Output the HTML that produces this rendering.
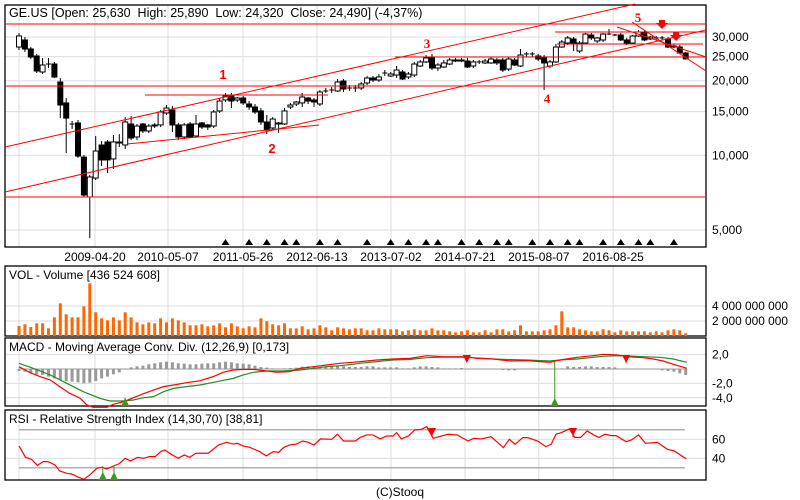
<!DOCTYPE html>
<html><head><meta charset="utf-8"><style>
body{margin:0;background:#fff;}
svg{display:block;font-family:"Liberation Sans",sans-serif;}
</style></head><body>
<svg id="c" width="800" height="500" viewBox="0 0 800 500" xmlns="http://www.w3.org/2000/svg"></svg>
<script>
const open=[27340,29190,26850,25150,21680,23350,23350,19760,16270,13380,13510,9840,6795,8100,11010,11320,9670,11320,11010,13380,11860,13380,12540,13260,13260,14820,15240,13260,11860,13380,11970,13510,13260,13130,15100,16720,17350,16720,17030,16110,15670,15100,13630,12890,13380,13380,15670,16110,16270,17030,16720,16110,18180,18345,18180,19940,18690,18520,18690,19580,20510,20130,21480,20890,21085,21680,20700,21085,22920,23800,24920,22500,22710,23350,24010,24010,24010,22920,23800,23580,23580,24235,24235,22290,24235,22920,25630,25630,25150,24690,22920,23800,27340,28380,29470,26350,28380,30570,28920,29190,30850,30570,30570,29190,28380,30290,31150,29470,29740,29740,29470,27600,27340,25870];
const close=[30290,26850,24920,21880,23140,23140,20690,15960,14140,13260,9930,6920,8180,10410,9580,9580,11320,11210,13630,11750,13130,12540,13130,13130,14960,15520,13260,11860,13260,11860,13380,13010,13010,14960,16560,17350,16560,17030,16270,15670,14960,13630,12655,14010,13510,15100,15960,16410,17190,16560,16410,18010,18180,18345,19760,18520,18690,18690,19400,20510,20130,20700,21480,21280,22085,20320,21280,23350,23800,24690,22500,23140,23580,24235,24235,24235,22710,23800,23800,24010,24460,23580,22085,24460,23140,25390,25630,25630,24460,23580,23800,27340,28640,29740,28120,28380,30850,29740,29740,30850,30850,30570,29190,28380,30290,31440,29190,30010,29740,29740,27340,27340,25870,24490];
const high=[31150,30010,27340,25630,24690,24690,23800,20500,17030,13760,13890,10030,8330,11960,11420,11530,12080,12190,14270,14410,13380,13510,13380,13510,15240,15960,15810,13510,13510,13630,14545,13630,13380,15240,17030,17850,17850,17190,17350,16560,16110,15520,14545,14270,13630,15520,16270,16560,17850,17190,17030,18345,18690,18870,20320,20320,19215,19215,19760,20890,20890,21280,22085,21680,22920,22085,21680,23800,24235,25390,25630,23580,24235,24690,24690,24690,24690,24235,24235,24460,24920,24690,24690,24920,24690,26850,26100,26100,25630,25390,24235,28120,29190,30290,30010,28920,31150,31150,30010,31150,32320,30850,31150,29740,30570,32025,31730,30290,30290,30290,30010,28120,27860,26100];
const low=[26600,26100,24460,21480,21280,22500,20500,14140,10220,12780,9770,6795,4640,7955,9060,8490,8810,10810,10610,11530,11530,12310,12310,12890,13010,14545,12420,11530,11640,11750,11860,12780,12655,12890,14820,16410,15520,16410,15960,15240,14680,13260,12190,12655,12310,13260,15380,15810,15670,16110,15670,15810,17850,17850,18010,18010,18180,18010,18345,19215,19760,19760,20890,20700,20510,20130,20320,20700,22710,23580,22085,21880,22500,23140,23800,23800,22500,22500,23350,23350,23350,23140,21680,21880,22920,22710,24920,24920,24010,18345,22500,23580,27090,27860,26350,25870,28120,29190,28380,28640,30570,30290,28920,27860,28120,30010,28920,29190,29190,29190,27090,27090,25630,24320];
const volume=[1.33,1.56,1.2,1.69,1.69,1.02,2.49,4.36,2.89,2.49,2.49,3.96,7.02,3.16,2.36,2.09,2.49,2.09,3.16,2.49,1.82,1.56,1.82,1.69,2.36,1.82,2.36,2.09,1.82,1.42,1.42,1.56,1.29,1.42,1.69,1.16,1.69,1.29,1.02,1.29,1.16,2.36,1.96,1.56,1.42,1.69,1.02,1.02,1.29,0.89,1.02,1.42,1.16,0.76,1.16,1.02,0.89,1.02,1.02,0.76,0.76,1.02,0.89,0.89,0.89,0.62,0.76,0.89,0.76,0.76,1.02,0.76,0.76,0.62,0.49,0.62,0.76,0.49,0.49,0.76,0.49,0.89,0.89,0.62,0.76,1.42,0.62,0.62,0.62,0.76,0.89,1.42,3.29,1.16,1.16,0.89,0.76,0.62,0.62,0.89,0.76,0.49,0.76,0.62,0.62,0.62,0.62,0.49,0.62,0.49,0.76,0.89,0.76,0.36];
const hist=[-0.28,-0.37,-0.60,-0.74,-0.83,-1.06,-1.30,-1.53,-1.67,-1.76,-1.85,-1.99,-1.90,-1.67,-1.30,-1.06,-0.74,-0.46,-0.09,0.23,0.37,0.46,0.65,0.79,0.93,1.02,0.93,0.79,0.74,0.65,0.65,0.74,0.79,0.79,0.93,1.02,0.93,0.79,0.74,0.65,0.46,0.28,0.19,0.09,-0.05,0.09,0.14,0.19,0.32,0.37,0.37,0.28,0.32,0.37,0.46,0.37,0.28,0.28,0.28,0.37,0.37,0.23,0.23,0.23,0.23,0.09,0.09,0.23,0.37,0.37,0.28,0.23,0.09,0.09,0.09,0.14,0,0,0,0,0,0,-0.14,-0.19,-0.19,0,0,0,0,0,0,0,0.09,0.37,0.28,0.28,0.37,0.37,0.28,0.28,0.28,0.23,0,0,0,0,0,0,0,-0.19,-0.28,-0.37,-0.60,-0.83];
const macdIdx=[0,1.9,3.6,5.3,6.9,8.6,10.3,11.5,12.6,14.9,16,17.7,19.4,21.1,22.8,24.5,26.2,28.4,30.7,32.9,34.6,36.3,38,39.7,42,43.7,45.9,47.6,49.9,52.1,54.4,56.6,57.8,60.6,63.4,66.3,69.1,71.9,75.9,77.6,80.4,83.2,86.1,88.3,90,91.7,94.6,97.3,99,101.4,103,105.8,107.5,109.2,110.9,113.2];
const macdVal=[0.32,-0.51,-1.06,-1.53,-2.45,-3.38,-4.03,-4.99,-5.32,-5.32,-4.91,-4.54,-3.98,-3.43,-2.92,-2.45,-2.22,-1.90,-1.62,-1.06,-0.46,-0.14,-0.05,-0.05,-0.28,-0.46,-0.37,0.09,0.32,0.56,0.79,0.93,1.02,1.25,1.39,1.48,1.85,1.71,1.71,1.48,1.39,1.11,1.16,1.02,0.93,1.25,1.62,1.85,2.04,1.94,1.71,1.57,1.39,1.11,0.65,0.09];
const sigIdx=[0,2.4,5.3,8.1,10.9,13.7,15.4,17.7,19.4,21.1,22.8,24.5,26.2,28.4,30.7,33.5,36.3,38,39.7,42,44.8,47.6,49.9,52.1,54.4,56.6,57.8,60.6,63.4,66.3,69.1,71.9,75.9,77.6,80.4,83.2,86.1,88.3,90,91.7,94.6,97.3,99,101.4,103,105.8,108.6,110.9,113.2];
const sigVal=[0.79,0.09,-0.83,-1.99,-3.15,-4.07,-4.44,-4.44,-4.31,-3.98,-3.84,-3.15,-2.69,-2.45,-2.22,-1.76,-1.30,-0.83,-0.46,-0.28,-0.28,-0.14,0.09,0.32,0.46,0.65,0.79,1.02,1.25,1.34,1.57,1.67,1.62,1.53,1.39,1.30,1.25,1.16,1.11,1.25,1.39,1.62,1.76,1.85,1.80,1.71,1.62,1.39,0.93];
const rsiIdx=[0,1.1,2.1,3.1,4.1,4.9,6.1,6.9,8.1,8.9,10.1,11,12,13.2,14,14.9,16,17,18,18.9,20.1,21.1,22.1,23.1,24,24.7,26,27,28,28.9,30,32.1,33.8,35.2,36.3,37,38,39.1,40.8,41.9,43.1,44,44.9,45.9,47,48.1,49,50,51.1,53,54,55,57,57.8,58.9,60,61.2,62.3,63.4,64,64.8,66,67.1,68.2,69.1,70.2,71.2,72.7,74.3,76.1,77.1,78.4,80,81.1,82.1,83.1,84.1,85.4,86.2,87.9,89.3,90.2,91,91.9,93.3,94.2,95.2,96.3,97.6,98.3,99.3,100.4,101.2,102.9,103.8,105,106.2,108.2,109.9,111.1,113.1];
const rsiVal=[53,41,39,32.6,36.5,36.5,33,26.7,24.2,23.5,20,17.9,22.5,29.5,30.5,28.8,31.9,34.4,40,37.2,41,40,41.8,41.8,47,48.8,43.5,40,43.5,41,45.3,45.3,54,56.8,55,55.8,53,51.6,47,42.5,47,46.3,51.6,54,55,58.2,56.8,54,60.4,60,65.3,58.2,58.2,61.8,64.6,64.6,60.4,63.5,63.5,67,60.4,63.5,69.8,70.5,73.3,61,62.8,65.3,64.6,58.2,61,60.4,62.8,56.8,51.2,60,54.7,61.8,61.8,58.2,52.3,54.7,65.3,67,70.9,62,62,68.8,63.9,62,65.3,63.9,63.9,57.5,59.3,64.6,55.8,56.8,49.5,47.7,39.3];
const dateLabels=["2009-04-20","2010-05-07","2011-05-26","2012-06-13","2013-07-02","2014-07-21","2015-08-07","2016-08-25"];
const dateIdx=[12.88,25.25,37.97,50.5,63.05,75.6,88.1,100.7];
const priceTicks=[30000,25000,20000,15000,10000,5000];
const priceTickLabels=["30,000","25,000","20,000","15,000","10,000","5,000"];
const volTicks=[4,2];
const volTickLabels=["4 000 000 000","2 000 000 000"];
const macdTicks=[2,-2,-4];
const macdTickLabels=["2,0","-2,0","-4,0"];
const rsiTicks=[60,40];
const signalIdx=[35,39,42,45,47,51,54,59,63,66,69,71,75,78,81,83,87,90,93,95,99,102,105,107,111];
const macdBuyIdx=[18,90.8], macdSellIdx=[75.9,102.9];
const rsiBuyIdx=[14.2,16.1], rsiSellIdx=[70,93.9];

const NS="http://www.w3.org/2000/svg";
const svg=document.getElementById('c');
function mk(tag,attrs,parent){const e=document.createElementNS(NS,tag);for(const k in attrs)e.setAttribute(k,attrs[k]);(parent||svg).appendChild(e);return e;}
const xs=i=>19+5.9*i;
const yP=p=>230-107.7*Math.log(p/5000);
const yV=v=>336-v*7.5;
const yM=v=>369-v*7.2;
const yR=v=>439.3-(v-60)*0.95;

const grid=mk('g',{});


const panels=[[5,247],[266,336],[338,406],[410,480]];
[0].concat(dateIdx).forEach(d=>{panels.forEach(p=>{mk('line',{x1:xs(d),x2:xs(d),y1:p[0],y2:p[1],stroke:'#dcdcdc','stroke-width':1},grid);});});
priceTicks.forEach(t=>mk('line',{x1:5,x2:706,y1:yP(t),y2:yP(t),stroke:'#dcdcdc'},grid));
volTicks.forEach(t=>mk('line',{x1:5,x2:706,y1:yV(t),y2:yV(t),stroke:'#dcdcdc'},grid));
macdTicks.forEach(t=>mk('line',{x1:5,x2:706,y1:yM(t),y2:yM(t),stroke:'#dcdcdc'},grid));
rsiTicks.forEach(t=>mk('line',{x1:5,x2:706,y1:yR(t),y2:yR(t),stroke:'#dcdcdc'},grid));

const names=['price-panel','volume-panel','macd-panel','rsi-panel'];
panels.forEach((p,k)=>{const r=mk('rect',{x:5,y:p[0],width:701,height:p[1]-p[0],fill:'none',stroke:'#000','stroke-width':1.3});

});

const cg=mk('g',{});


open.forEach((o,i)=>{const c=close[i],x=xs(i);
 mk('line',{x1:x,x2:x,y1:yP(high[i]),y2:yP(low[i]),stroke:'#000'},cg);
 const t=Math.min(yP(o),yP(c)),b=Math.max(yP(o),yP(c));
 if(b-t<1){mk('line',{x1:x-2.5,x2:x+2.5,y1:t,y2:t,stroke:'#000'},cg);}
 else{const r=mk('rect',{x:x-2.5,y:t,width:5,height:b-t,fill:c>=o?'#fff':'#000',stroke:'#000','stroke-width':1},cg);
 
 }
});

const an=mk('g',{stroke:'#f00','stroke-width':1,fill:'none'});


[[5,24,706,24],[5,86,706,86],[5,197,706,197],[395,57,706,57],[555,32,706,32],[557,44,703,44],[145,95,328,95],[127,144,319,125],[5,147,635,4],[5,192,706,30],[617,27,706,57],[632,22,706,71]].forEach(l=>mk('line',{x1:l[0],y1:l[1],x2:l[2],y2:l[3]},an));
mk('path',{d:'M659,20 L665,20 L665,23 L668,23 L662,29 L656,23 L659,23 Z',fill:'#f00',stroke:'none'},an);
mk('path',{d:'M673,32 L679,32 L679,35 L682,35 L676,41 L670,35 L673,35 Z',fill:'#f00',stroke:'none'},an);
[['1',223,79,'Liberation Sans'],['2',272,153,'Liberation Sans'],['3',427,48,'Liberation Serif'],['4',547,103,'Liberation Serif'],['5',638,22,'Liberation Serif']].forEach(a=>{const t=mk('text',{x:a[1],y:a[2],fill:'#f00',stroke:'none','font-size':13,'font-weight':'bold','text-anchor':'middle','font-family':'"'+a[3]+'",sans-serif'},an);t.textContent=a[0];});

signalIdx.forEach(i=>{const x=xs(i);const p=mk('path',{d:`M${x-4},245 L${x+4},245 L${x},239 Z`,fill:'#000'});

});

function txt(s,x,y,opt){const t=mk('text',Object.assign({x:x,y:y,'font-size':12,fill:'#000'},opt||{}));t.textContent=s;return t;}
let t=txt('GE.US [Open: 25,630  High: 25,890  Low: 24,320  Close: 24,490] (-4,37%)',9,17,{'font-size':12.5});

t.setAttribute('style','white-space:pre');
priceTicks.forEach((p,k)=>{const e=txt(priceTickLabels[k],712,yP(p)+4);});
dateLabels.forEach((d,k)=>{const e=txt(d,xs(dateIdx[k]),261,{'text-anchor':'middle'});});

t=txt('VOL - Volume [436 524 608]',9,279);
volume.forEach((v,i)=>{const r=mk('rect',{x:xs(i)-1.5,y:yV(v),width:3,height:336-yV(v),fill:'#ff6600'});

});
volTicks.forEach((v,k)=>{const e=txt(volTickLabels[k],712,yV(v)+4,{'textLength':76,'lengthAdjust':'spacingAndGlyphs'});});

t=txt('MACD - Moving Average Conv. Div. (12,26,9) [0,173]',9,351);
mk('line',{x1:19,x2:686,y1:yM(0),y2:yM(0),stroke:'#999'});
hist.forEach((h,i)=>{if(h===0)return;const y0=yM(0),y1=yM(h);const r=mk('rect',{x:xs(i)-1.5,y:Math.min(y0,y1),width:3,height:Math.abs(y1-y0),fill:'#999'});

});
function line(ix,vals,fy,col,name){const pl=mk('polyline',{points:ix.map((i,k)=>xs(i)+','+fy(vals[k])).join(' '),fill:'none',stroke:col,'stroke-width':1.2});}
line(sigIdx,sigVal,yM,'#228b22','macd-signal-line');
line(macdIdx,macdVal,yM,'#f00','macd-line');
macdTicks.forEach((v,k)=>{const e=txt(macdTickLabels[k],712,yM(v)+4);});
function up(x,yTop,yb,col){mk('line',{x1:x,x2:x,y1:yTop,y2:yb,stroke:col});mk('path',{d:`M${x-4},${yb} L${x+4},${yb} L${x},${yb-8} Z`,fill:col});}
function down(x,yt,yBot,col){mk('line',{x1:x,x2:x,y1:yt,y2:yBot,stroke:col});mk('path',{d:`M${x-4},${yt} L${x+4},${yt} L${x},${yt+8} Z`,fill:col});}
up(xs(macdBuyIdx[0]),398,406,'#3a9a1a');up(xs(macdBuyIdx[1]),361,406,'#3a9a1a');
down(xs(macdSellIdx[0]),355,362,'#f00');down(xs(macdSellIdx[1]),355,363,'#f00');

t=txt('RSI - Relative Strength Index (14,30,70) [38,81]',9,423);
mk('line',{x1:19,x2:685,y1:yR(70),y2:yR(70),stroke:'#999','stroke-width':1.2});
mk('line',{x1:19,x2:685,y1:yR(30),y2:yR(30),stroke:'#999','stroke-width':1.2});
line(rsiIdx,rsiVal,yR,'#f00','rsi-line');
rsiTicks.forEach(v=>{const e=txt(String(v),712,yR(v)+4);});
up(xs(rsiBuyIdx[0]),466,480,'#3a9a1a');up(xs(rsiBuyIdx[1]),466,480,'#3a9a1a');
down(xs(rsiSellIdx[0]),428,437,'#f00');down(xs(rsiSellIdx[1]),428,437,'#f00');

t=txt('(C)Stooq',400,496,{'text-anchor':'middle'});
</script>
</body></html>
